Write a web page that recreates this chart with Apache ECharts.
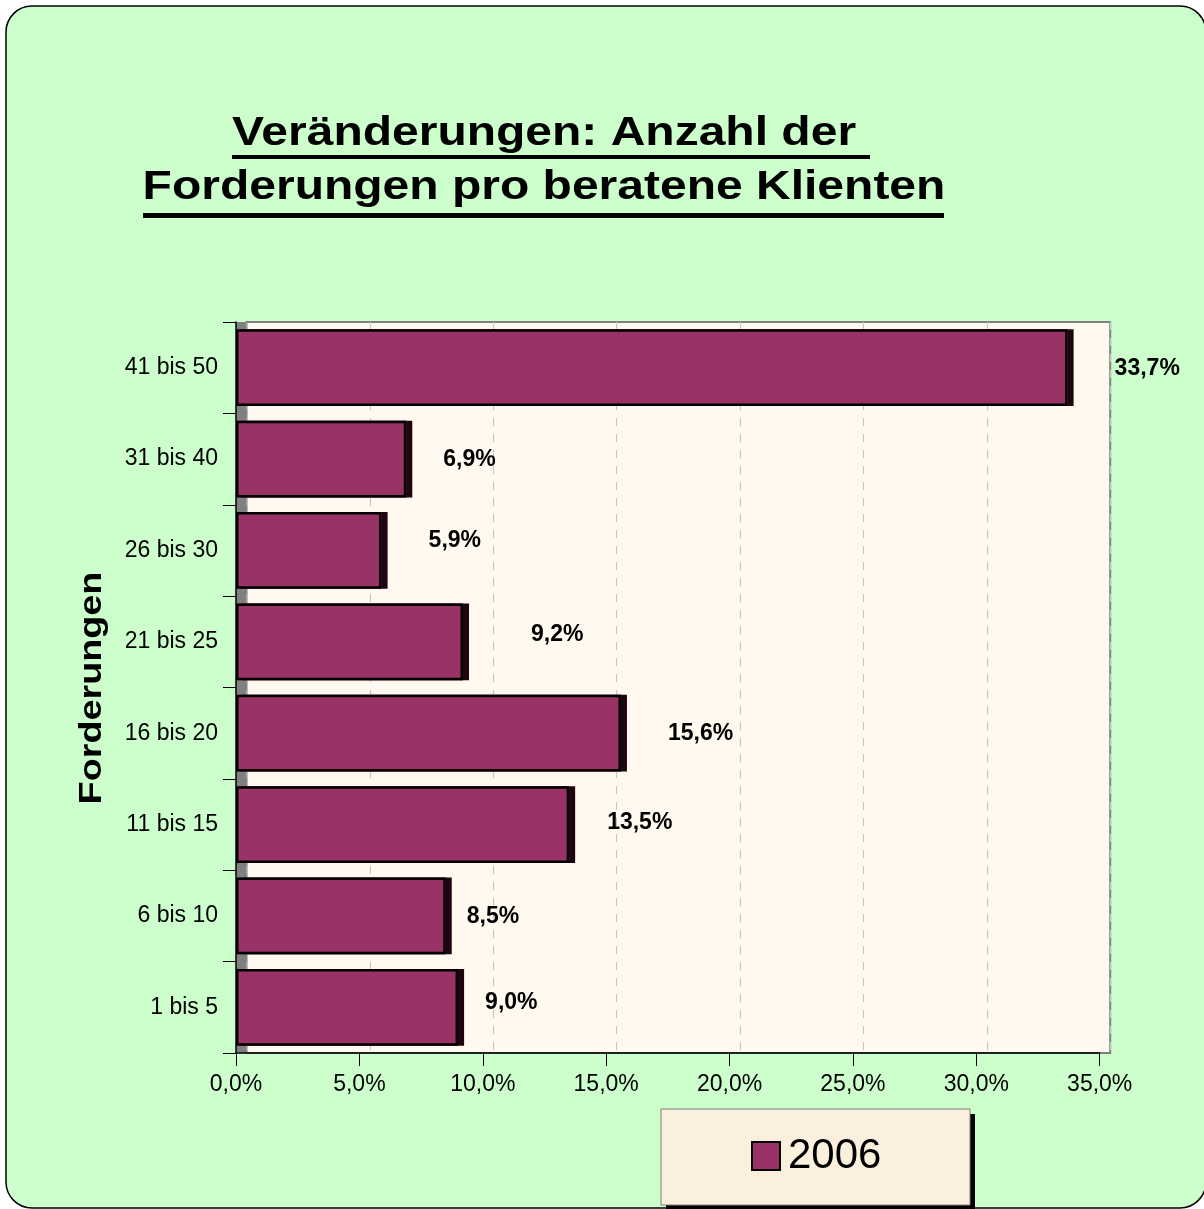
<!DOCTYPE html>
<html>
<head>
<meta charset="utf-8">
<title>Forderungen pro beratene Klienten</title>
<script src="https://cdn.jsdelivr.net/npm/echarts@6.0.0/dist/echarts.min.js"></script>
<style>
  html, body { margin: 0; padding: 0; background: #ffffff; }
  #main { width: 1204px; height: 1209px; }
</style>
</head>
<body>
<div id="main"></div>
<script>
// Kategorien von unten nach oben (wie im Excel-Diagramm)
var categories = ['1 bis 5', '6 bis 10', '11 bis 15', '16 bis 20', '21 bis 25', '26 bis 30', '31 bis 40', '41 bis 50'];
// Anteile 2006 in Prozent
var values2006 = [9.0, 8.5, 13.5, 15.6, 9.2, 5.9, 6.9, 33.7];
var seriesName = '2006';
var xTicks = [0, 5, 10, 15, 20, 25, 30, 35];
// Verschiebung der Wertbeschriftungen (Excel setzt sie unregelmaessig)
var labelShift = [[27, -5], [21, 1], [38, -2], [47, 0], [68, -7], [47, -10], [37, 1], [47, 1]];

var FONT = '"Liberation Sans", Arial, sans-serif';

chartPage = {
    chart: null,
    init: function () {
        chartPage.chart = echarts.init(document.getElementById('main'));
        chartPage.render();
    },
    fmt: function (v) {
        return v.toFixed(1).replace('.', ',') + '%';
    },
    render: function () {
        var data = values2006.map(function (v, i) {
            return { value: v, label: { offset: labelShift[i] } };
        });
        var option = {
            backgroundColor: '#ffffff',
            animation: false,
            graphic: [
                // Rahmen mit runden Ecken
                { type: 'rect', z: -10, shape: { x: 6, y: 6, width: 1200, height: 1202, r: 26 },
                  style: { fill: '#CCFFCC', stroke: '#000000', lineWidth: 1.5 } },
                // Titel (breit gezogen wie im Original)
                { type: 'text', x: 544, y: 134, scaleX: 1.2, z: 5,
                  style: { text: 'Veränderungen: Anzahl der', font: 'bold 40px ' + FONT, fill: '#000',
                           align: 'center', verticalAlign: 'middle' } },
                { type: 'text', x: 544, y: 188, scaleX: 1.2, z: 5,
                  style: { text: 'Forderungen pro beratene Klienten', font: 'bold 40px ' + FONT, fill: '#000',
                           align: 'center', verticalAlign: 'middle' } },
                { type: 'rect', z: 5, shape: { x: 232, y: 155, width: 638, height: 4 }, style: { fill: '#000' } },
                { type: 'rect', z: 5, shape: { x: 143, y: 213, width: 801, height: 5 }, style: { fill: '#000' } },
                // Achsentitel
                { type: 'text', x: 92, y: 688, rotation: Math.PI / 2, scaleX: 1.18, z: 5,
                  style: { text: 'Forderungen', font: 'bold 32px ' + FONT, fill: '#000',
                           align: 'center', verticalAlign: 'middle' } },
                // Boden (3D) links
                { type: 'rect', z: 1, shape: { x: 236, y: 322, width: 10.5, height: 731 },
                  style: { fill: '#808080' } },
                // Legendenkasten: Schatten, dann Kasten
                { type: 'rect', z: 1, shape: { x: 666, y: 1114, width: 309, height: 96 },
                  style: { fill: '#000' } },
                { type: 'rect', z: 2, shape: { x: 661, y: 1109, width: 309, height: 96 },
                  style: { fill: '#FBF0DE', stroke: '#7f7f7f', lineWidth: 1 } }
            ],
            legend: {
                data: [seriesName],
                left: 661,
                top: 1109,
                orient: 'horizontal',
                icon: 'rect',
                itemWidth: 28,
                itemHeight: 28,
                itemGap: 10,
                padding: [26, 85, 26, 90],
                backgroundColor: 'transparent',
                z: 6,
                itemStyle: { color: '#993366', borderColor: '#000', borderWidth: 2 },
                textStyle: { fontSize: 42, fontFamily: FONT, color: '#000', padding: [0, 0, 0, 3] }
            },
            grid: [
                // vordere Ebene mit Achsen
                { left: 236, right: 104.3, top: 322, bottom: 156 },
                // Rueckwand mit Gitterlinien
                { left: 246.5, right: 93.8, top: 322, bottom: 156, show: true,
                  backgroundColor: '#FFF9EF', borderColor: '#808080', borderWidth: 2, z: -1 }
            ],
            xAxis: [
                {
                    gridIndex: 0, type: 'value', min: 0, max: 35, interval: 5, z: 3,
                    axisLine: { show: true, lineStyle: { color: '#000', width: 1.5 } },
                    axisTick: { show: true, length: 13, lineStyle: { color: '#000' } },
                    splitLine: { show: false },
                    axisLabel: {
                        margin: 20, fontSize: 23, fontFamily: FONT, color: '#000',
                        formatter: function (v) { return chartPage.fmt(v); }
                    }
                },
                {
                    gridIndex: 1, type: 'value', min: 0, max: 35, interval: 5, z: -1,
                    axisLine: { show: false }, axisTick: { show: false }, axisLabel: { show: false },
                    splitLine: { show: true, lineStyle: { color: '#c8c8c8', type: [8, 8], width: 1.2 } }
                }
            ],
            yAxis: [
                {
                    gridIndex: 0, type: 'category', data: categories, z: 3,
                    axisLine: { show: true, lineStyle: { color: '#000', width: 1.5 } },
                    axisTick: { show: true, length: 13, lineStyle: { color: '#000' } },
                    axisLabel: { margin: 18, fontSize: 23, fontFamily: FONT, color: '#000' }
                },
                {
                    gridIndex: 1, type: 'category', data: categories, show: false
                }
            ],
            series: [
                {
                    // Flaeche + dunkle Seitenflaeche (Schatten nach rechts)
                    name: seriesName,
                    type: 'bar',
                    xAxisIndex: 0,
                    yAxisIndex: 0,
                    barCategoryGap: '16%',
                    z: 4,
                    itemStyle: {
                        color: '#993366',
                        borderWidth: 0,
                        shadowColor: '#1e0510',
                        shadowOffsetX: 6,
                        shadowOffsetY: 0,
                        shadowBlur: 0
                    },
                    label: {
                        show: true,
                        position: 'right',
                        distance: 0,
                        fontSize: 23,
                        fontWeight: 'bold',
                        fontFamily: FONT,
                        color: '#000',
                        formatter: function (p) { return chartPage.fmt(p.value); }
                    },
                    data: data
                },
                {
                    // schwarzer Rand der Vorderseite
                    name: seriesName,
                    type: 'bar',
                    xAxisIndex: 0,
                    yAxisIndex: 0,
                    barCategoryGap: '16%',
                    barGap: '-100%',
                    z: 5,
                    silent: true,
                    itemStyle: {
                        color: 'rgba(0,0,0,0)',
                        borderColor: '#000000',
                        borderWidth: 2.5
                    },
                    data: values2006
                }
            ]
        };
        chartPage.chart.setOption(option, false);
    }
};

chartPage.init();
</script>
</body>
</html>
